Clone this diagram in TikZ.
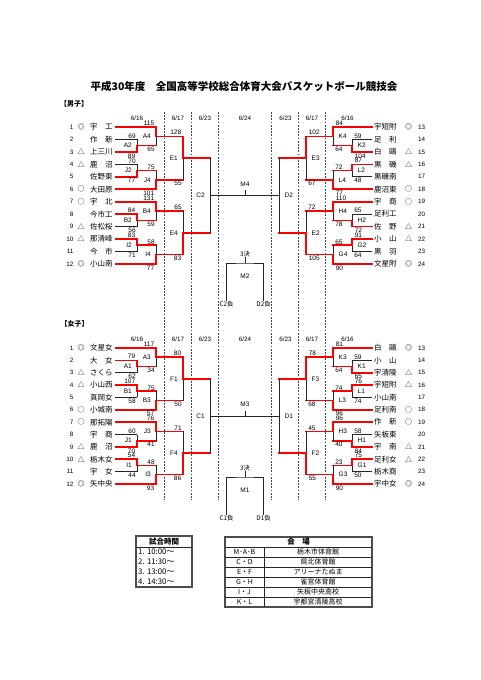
\documentclass[tikz,border=0pt]{standalone}
\usepackage{fontspec}
\setmainfont{Liberation Sans}
\newfontfamily\jp{Noto Sans CJK JP}
\usetikzlibrary{positioning}
\tikzset{
win/.style={draw=red, line width=1.6pt, line cap=rect},
lose/.style={draw=black!85, line width=.7pt},
sep/.style={draw=black!75, line width=.45pt, dash pattern=on 1.8pt off 1.4pt},
team/.style={inner sep=0pt, font=\jp\fontsize{7.5}{8}\selectfont},
tno/.style={inner sep=0pt, font=\fontsize{6.3}{7}\selectfont},
seed/.style={inner sep=0pt, font=\jp\fontsize{7}{8}\selectfont},
pts/.style={inner sep=0pt, font=\fontsize{6.5}{7}\selectfont},
ptl/.style={pts, anchor=south east, xshift=-1pt, yshift=.8pt},
pbl/.style={pts, anchor=north east, xshift=-1pt, yshift=-.8pt},
ptr/.style={pts, anchor=south west, xshift=2pt, yshift=.8pt},
pbr/.style={pts, anchor=north west, xshift=2pt, yshift=-.8pt},
game/.style={inner sep=0pt, font=\fontsize{6.5}{7}\selectfont},
day/.style={inner sep=0pt, font=\fontsize{6.3}{7}\selectfont},
jpsmall/.style={inner sep=0pt, font=\jp\fontsize{6.3}{7}\selectfont},
frame/.style={draw=black!70, line width=1.3pt},
rule/.style={draw=black!85, line width=.6pt},
tab/.style={inner sep=0pt, font=\jp\fontsize{7}{8}\selectfont},
}

\begin{document}
\begin{tikzpicture}[x=1pt,y=-1pt]
\fill[white] (0,0) rectangle (481,680);
\useasboundingbox (0,0) rectangle (481,680);

% headings
\node[inner sep=0pt, font=\jp\bfseries\fontsize{10.5}{12}\selectfont] (title) at (244,86) {平成30年度　全国高等学校総合体育大会バスケットボール競技会};
\node[inner sep=0pt, font=\jp\bfseries\fontsize{7}{8}\selectfont] (boys) at (74,103.5) {【男子】};
\node[inner sep=0pt, font=\jp\bfseries\fontsize{7}{8}\selectfont] (girls) at (74.5,323.5) {【女子】};

% day columns
\foreach \x in {164,191,218,271,298,325}
  \draw[sep] (\x,112) -- (\x,500);
\foreach \s/\y in {b/118,g/339}
  \foreach \x/\d [count=\k] in {137/16,178/17,205/23,245/24,285.5/23,312/17,347.5/16}
    \node[day] (\s d\k) at (\x,\y) {6/\d};

% teams
\foreach \i/\m/\t in {1/◎/宇　工, 2//作　新, 3/△/上三川, 4/△/鹿　沼, 5//佐野東, 6/○/大田原,
  7/○/宇　北, 8//今市工, 9/△/佐松桜, 10/△/那清峰, 11//今　市, 12/◎/小山南} {
  \pgfmathsetmacro\y{127+12.45*(\i-1)}
  \node[tno, anchor=east] (bn\i) at (73.5,\y) {\i};
  \node[seed] (bs\i) at (81,\y) {\m};
  \node[team, anchor=west] (b\i) at (90,\y) {\t};
}
\foreach \i/\m/\t in {13/◎/宇短附, 14//足　利, 15/△/白　鷗, 16/△/黒　磯, 17//黒磯南, 18/○/鹿沼東,
  19/○/宇　商, 20//足利工, 21/△/佐　野, 22/△/小　山, 23//黒　羽, 24/◎/文星附} {
  \pgfmathsetmacro\y{127+12.45*(\i-13)}
  \node[team, anchor=west] (b\i) at (374,\y) {\t};
  \node[seed] (bs\i) at (408.5,\y) {\m};
  \node[tno, anchor=west] (bn\i) at (418,\y) {\i};
}
\foreach \i/\m/\t in {1/◎/文星女, 2//大　女, 3/△/さくら, 4/△/小山西, 5//真岡女, 6/○/小城南,
  7/○/那拓陽, 8//宇　商, 9/△/鹿　沼, 10/△/栃木女, 11//宇　女, 12/◎/矢中央} {
  \pgfmathsetmacro\y{348+12.36*(\i-1)}
  \node[tno, anchor=east] (gn\i) at (73.5,\y) {\i};
  \node[seed] (gs\i) at (81,\y) {\m};
  \node[team, anchor=west] (g\i) at (90,\y) {\t};
}
\foreach \i/\m/\t in {13/◎/白　鷗, 14//小　山, 15/△/宇清陵, 16/△/宇短附, 17//小山南, 18/○/足利南,
  19/○/作　新, 20//矢板東, 21/△/宇　南, 22/△/足利女, 23//栃木商, 24/◎/宇中女} {
  \pgfmathsetmacro\y{348+12.36*(\i-13)}
  \node[team, anchor=west] (g\i) at (374,\y) {\t};
  \node[seed] (gs\i) at (408.5,\y) {\m};
  \node[tno, anchor=west] (gn\i) at (418,\y) {\i};
}

% games
\foreach \c/\x/\y in {A2/137/145.68, A4/156/136.34, J2/137/170.58, J4/156/179.91, E1/183/158.13,
  B2/137/220.38, B4/156/211.04, I2/137/245.28, I4/156/254.61, E4/183/232.83, C2/210/195.48,
  K2/352/145.68, K4/333/136.34, L2/352/170.58, L4/333/179.91, E3/306/158.13,
  H2/352/220.38, H4/333/211.04, G2/352/245.28, G4/333/254.61, E2/306/232.83, D2/279/195.48,
  A1/137/366.54, A3/156/357.27, B1/137/391.26, B3/156/400.53, F1/183/378.90,
  J1/137/440.70, J3/156/431.43, I1/137/465.42, I3/156/474.69, F4/183/453.06, C1/210/415.98,
  K1/352/366.54, K3/333/357.27, L1/352/391.26, L3/333/400.53, F3/306/378.90,
  H1/352/440.70, H3/333/431.43, G1/352/465.42, G3/333/474.69, F2/306/453.06, D1/279/415.98}
  \coordinate (\c) at (\x,\y);

% team lines
\foreach \i/\s/\f in {b1/win/A4, b2/lose/A2, b3/win/A2, b4/lose/J2, b5/win/J2, b6/win/J4,
  b7/win/B4, b8/win/B2, b9/lose/B2, b10/win/I2, b11/lose/I2, b12/win/I4,
  g1/win/A3, g2/win/A1, g3/lose/A1, g4/win/B1, g5/lose/B1, g6/win/B3,
  g7/win/J3, g8/lose/J1, g9/win/J1, g10/win/I1, g11/lose/I1, g12/win/I3}
  \draw[\s, shorten <=2.5pt] (\i.east) -- (\i.east -| \f);
\foreach \i/\s/\f in {b13/win/K4, b14/lose/K2, b15/win/K2, b16/win/L2, b17/lose/L2, b18/win/L4,
  b19/win/H4, b20/lose/H2, b21/win/H2, b22/win/G2, b23/lose/G2, b24/win/G4,
  g13/win/K3, g14/lose/K1, g15/win/K1, g16/win/L1, g17/lose/L1, g18/win/L3,
  g19/win/H3, g20/lose/H1, g21/win/H1, g22/win/G1, g23/lose/G1, g24/win/G3}
  \draw[\s, shorten <=2pt] (\i.west) -- (\i.west -| \f);

% left brackets
\foreach \m/\a/\b/\n/\sa/\sb/\ta/\tb in {A2/b2/b3/A4/lose/win/69/89, A4/b1/A2/E1/win/lose/115/65,
  J2/b4/b5/J4/lose/win/70/77, J4/J2/b6/E1/lose/win/75/101, E1/A4/J4/C2/win/lose/128/55,
  B2/b8/b9/B4/win/lose/84/56, B4/b7/B2/E4/win/lose/131/59, I2/b10/b11/I4/win/lose/83/71,
  I4/I2/b12/E4/lose/win/58/77, E4/B4/I4/C2/lose/win/65/83,
  A1/g2/g3/A3/win/lose/79/62, A3/g1/A1/F1/win/lose/117/34, B1/g4/g5/B3/win/lose/107/58,
  B3/B1/g6/F1/lose/win/75/57, F1/A3/B3/C1/win/lose/80/50, J1/g8/g9/J3/lose/win/60/70,
  J3/g7/J1/F4/win/lose/76/41, I1/g10/g11/I3/win/lose/54/44, I3/I1/g12/F4/lose/win/48/93,
  F4/J3/I3/C1/lose/win/71/86} {
  \draw[\sa] (\a -| \m) node[ptl] (t\m) {\ta} -- (\m);
  \draw[\sb] (\b -| \m) node[pbl] (u\m) {\tb} -- (\m);
  \draw[win] (\m) -- (\m -| \n);
  \node[game, left=5pt of \m] (l\m) {\m};
}
% right brackets
\foreach \m/\a/\b/\n/\sa/\sb/\ta/\tb in {K2/b14/b15/K4/lose/win/59/104, K4/b13/K2/E3/win/lose/84/64,
  L2/b16/b17/L4/win/lose/87/48, L4/L2/b18/E3/lose/win/72/77, E3/K4/L4/D2/win/lose/102/67,
  H2/b20/b21/H4/lose/win/65/72, H4/b19/H2/E2/win/lose/110/78, G2/b22/b23/G4/win/lose/91/64,
  G4/G2/b24/E2/lose/win/65/90, E2/H4/G4/D2/lose/win/72/105,
  K1/g14/g15/K3/lose/win/59/65, K3/g13/K1/F3/win/lose/81/64, L1/g16/g17/L3/win/lose/76/74,
  L3/L1/g18/F3/lose/win/74/96, F3/K3/L3/D1/win/lose/78/68, H1/g20/g21/H3/lose/win/58/84,
  H3/g19/H1/F2/win/lose/96/40, G1/g22/g23/G3/win/lose/75/50, G3/G1/g24/F2/lose/win/23/90,
  F2/H3/G3/D1/lose/win/45/55} {
  \draw[\sa] (\a -| \m) node[ptr] (t\m) {\ta} -- (\m);
  \draw[\sb] (\b -| \m) node[pbr] (u\m) {\tb} -- (\m);
  \draw[win] (\m) -- (\m -| \n);
  \node[game, right=5.5pt of \m] (l\m) {\m};
}

% semifinals, final, 3rd place
\foreach \c/\d/\lc/\rc/\le/\re/\f/\y/\q/\t/\lo/\yl in {C2/D2/E1/E3/E4/E2/M4/195.48/254/263/M2/304.5,
  C1/D1/F1/F3/F4/F2/M3/415.98/468/477/M1/518.5} {
  \draw[lose] (\lc -| \c) -- (\le -| \c);
  \draw[lose] (\rc -| \d) -- (\re -| \d);
  \draw[lose] (\c) -- (\d);
  \node[game, left=5pt of \c] (l\c) {\c};
  \node[game, right=5.5pt of \d] (l\d) {\d};
  \coordinate (\f) at (245,\y);
  \draw[lose] (\f) -- ++(0,-5) node[game, above=4pt] (l\f) {\f};
  \node[jpsmall] (q\lo) at (245,\q) {3決};
  \coordinate (\lo) at (245,\t);
  \draw[lose] (q\lo.south) -- (\lo);
  \node[jpsmall] (x\c) at (226.5,\yl) {\c 負};
  \node[jpsmall] (x\d) at (263.5,\yl) {\d 負};
  \draw[lose] (x\c.north) |- (\lo) -| (x\d.north);
  \node[game] (l\lo) at (245,\t+13) {\lo};
}

% times
\draw[frame] (136,536) rectangle (192,587);
\draw[rule] (136,547) -- (192,547);
\node[tab, font=\jp\bfseries\fontsize{7.5}{8}\selectfont] (jikan) at (164,541.5) {試合時間};
\foreach \t [count=\k] in {10:00～,11:30～,13:00～,14:30～}
  \node[tab, anchor=west, font=\jp\fontsize{7.8}{8}\selectfont] (jikan\k) at (138,542+10*\k) {\k. \t};

% venues
\draw[frame] (225,537) rectangle (372,607);
\foreach \y in {547,557,567,577,587,597}
  \draw[rule] (225,\y) -- (372,\y);
\draw[rule] (264,547) -- (264,607);
\node[tab, font=\jp\bfseries\fontsize{7.5}{8}\selectfont] (kaijo) at (298.5,542) {会　場};
\foreach \a/\v [count=\k] in {M･A･B/栃木市体育館, C・D/県北体育館, E・F/アリーナたぬま,
  G・H/雀宮体育館, I・J/矢板中央高校, K・L/宇都宮清陵高校} {
  \node[tab] (kc\k) at (244.5,542+10*\k) {\a};
  \node[tab] (kv\k) at (318,542+10*\k) {\v};
}
\end{tikzpicture}
\end{document}
